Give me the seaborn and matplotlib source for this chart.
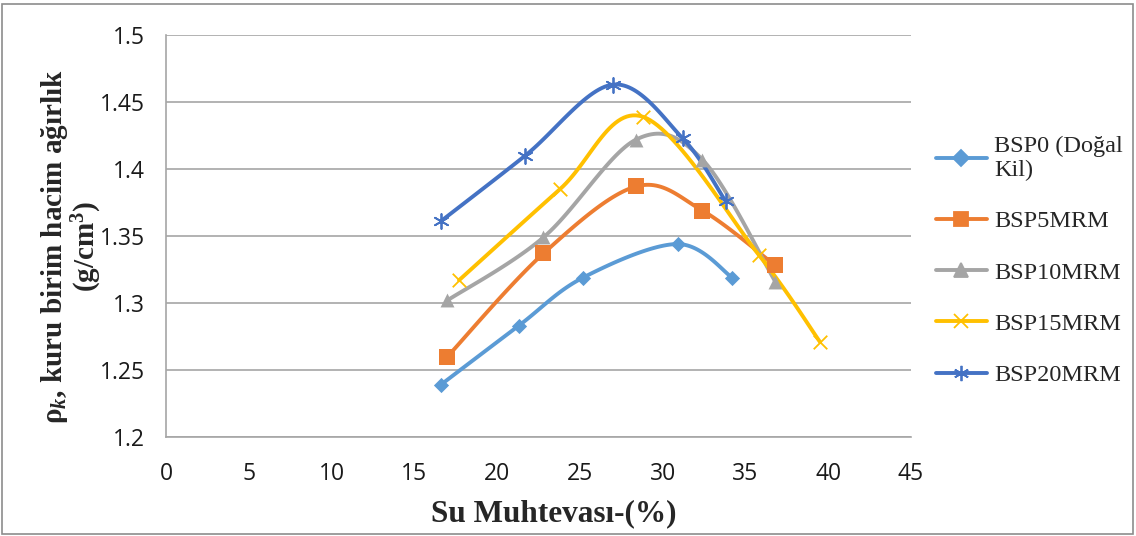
import numpy as np
import pandas as pd
import seaborn as sns
import matplotlib.pyplot as plt
from matplotlib.lines import Line2D
from matplotlib.patches import Rectangle
from matplotlib.ticker import FuncFormatter

# values
names = ["BSP0 (Doğal\nKil)", "BSP5MRM", "BSP10MRM", "BSP15MRM", "BSP20MRM"]
bsp0_x = [16.6, 21.3, 25.2, 30.9, 34.2]
bsp0_y = [1.239, 1.283, 1.319, 1.344, 1.319]
bsp5_x = [17.0, 22.8, 28.4, 32.4, 36.8]
bsp5_y = [1.260, 1.337, 1.387, 1.369, 1.328]
bsp10_x = [17.0, 22.8, 28.4, 32.4, 36.8]
bsp10_y = [1.302, 1.349, 1.422, 1.407, 1.316]
bsp15_x = [17.7, 23.8, 28.8, 35.8, 39.5]
bsp15_y = [1.317, 1.385, 1.439, 1.336, 1.271]
bsp20_x = [16.6, 21.7, 27.0, 31.2, 33.8]
bsp20_y = [1.361, 1.410, 1.463, 1.423, 1.376]

xs = [bsp0_x, bsp5_x, bsp10_x, bsp15_x, bsp20_x]
ys = [bsp0_y, bsp5_y, bsp10_y, bsp15_y, bsp20_y]

colors = ["#5B9BD5", "#ED7D31", "#A5A5A5", "#FFC000", "#4472C4"]
markers = ["D", "s", "^", "x", (6, 2, 0)]
msizes = [60, 120, 100, 95, 115]


def smooth(x, y, n=30):
    # Excel-style smoothed line: cubic bezier, catmull-rom control points
    x = np.asarray(x, float)
    y = np.asarray(y, float)
    px = np.concatenate([[x[0]], x, [x[-1]]])
    py = np.concatenate([[y[0]], y, [y[-1]]])
    out_x, out_y = [], []
    t = np.linspace(0, 1, n)
    for i in range(1, len(px) - 2):
        p0 = np.array([px[i], py[i]])
        p3 = np.array([px[i + 1], py[i + 1]])
        c1 = p0 + (np.array([px[i + 1], py[i + 1]]) - np.array([px[i - 1], py[i - 1]])) / 6
        c2 = p3 - (np.array([px[i + 2], py[i + 2]]) - np.array([px[i], py[i]])) / 6
        b = ((1 - t) ** 3)[:, None] * p0 + (3 * (1 - t) ** 2 * t)[:, None] * c1 \
            + (3 * (1 - t) * t ** 2)[:, None] * c2 + (t ** 3)[:, None] * p3
        out_x.extend(b[:, 0])
        out_y.extend(b[:, 1])
    return out_x, out_y


sns.set_style("white")
plt.rcParams["font.family"] = ["Liberation Serif", "DejaVu Serif"]
plt.rcParams["mathtext.fontset"] = "custom"
plt.rcParams["mathtext.rm"] = "Liberation Serif:bold"
plt.rcParams["mathtext.it"] = "Liberation Serif:bold:italic"
plt.rcParams["mathtext.bf"] = "Liberation Serif:bold"

fig = plt.figure(figsize=(11.36, 5.36), dpi=100)
ax = fig.add_axes([166 / 1136, 1 - 437 / 536, 745 / 1136, 402 / 536])

for i in range(len(names)):
    cx, cy = smooth(xs[i], ys[i])
    curve = pd.DataFrame({"x": cx, "y": cy})
    sns.lineplot(data=curve, x="x", y="y", sort=False, estimator=None,
                 color=colors[i], linewidth=2.8, ax=ax, zorder=3 + i)
    pts = pd.DataFrame({"x": xs[i], "y": ys[i]})
    if markers[i] == "x" or isinstance(markers[i], tuple):
        sns.scatterplot(data=pts, x="x", y="y", marker=markers[i], s=msizes[i],
                        color=colors[i], linewidth=1.3, ax=ax, zorder=10 + i)
    else:
        sns.scatterplot(data=pts, x="x", y="y", marker=markers[i], s=msizes[i],
                        color=colors[i], edgecolor=colors[i], linewidth=0,
                        ax=ax, zorder=10 + i)

ax.set_xlim(0, 45)
ax.set_ylim(1.2, 1.5)
ax.set_xticks(np.arange(0, 46, 5))
ax.set_yticks(np.arange(1.2, 1.501, 0.05))
ax.yaxis.set_major_formatter(FuncFormatter(lambda v, p: f"{v:.2f}".rstrip("0").rstrip(".")))
ax.grid(axis="y", color="#A6A6A6", linewidth=1.2)
ax.grid(axis="x", visible=False)
for s in ["top", "right"]:
    ax.spines[s].set_visible(False)
for s in ["left", "bottom"]:
    ax.spines[s].set_color("#A6A6A6")
    ax.spines[s].set_linewidth(1.2)
ax.tick_params(axis="both", length=6, width=1.2, color="#A6A6A6",
               labelsize=16.5, labelcolor="#1a1a1a", direction="out")
ax.tick_params(axis="y", pad=9)
ax.tick_params(axis="x", pad=12)
for lab in ax.get_xticklabels() + ax.get_yticklabels():
    lab.set_family(["Open Sans", "DejaVu Sans"])

ax.set_xlabel("Su Muhtevası-(%)", fontsize=22.5, fontweight="bold")
ax.xaxis.set_label_coords(0.521, -0.155)
ax.set_ylabel("ρ$_{k}$, kuru birim hacim ağırlık\n(g/cm$^{3}$)",
              fontsize=21, fontweight="bold", linespacing=1.0)
ax.yaxis.set_label_coords(-0.083, 0.473)

handles = [Line2D([0], [0], color=colors[i], linewidth=2.8, marker=markers[i],
                  markersize=[8, 10, 10, 10, 11][i], markeredgewidth=1.3)
           for i in range(len(names))]
fig.legend(handles, names, loc="upper left", bbox_to_anchor=(926 / 1136, 1 - 126 / 536),
           frameon=False, fontsize=17.5, labelspacing=1.2, handlelength=2.1,
           handletextpad=0.3, borderpad=0.4, borderaxespad=0)

fig.patches.append(Rectangle((2 / 1136, 2 / 536), 1131 / 1136, 530 / 536,
                             transform=fig.transFigure, fill=False,
                             edgecolor="#8C8C8C", linewidth=1.2))

plt.savefig("out.png", dpi=100)
